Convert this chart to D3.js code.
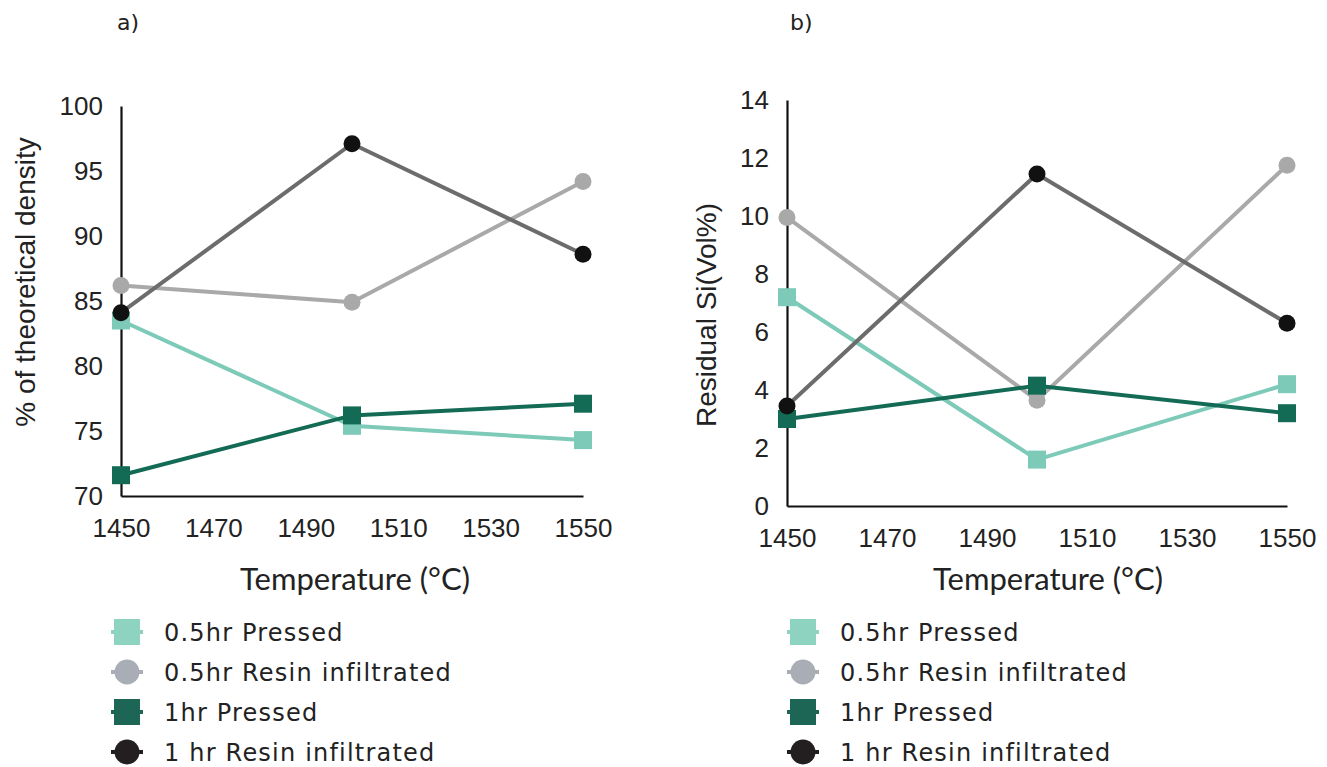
<!DOCTYPE html>
<html><head><meta charset="utf-8">
<script src="https://cdn.jsdelivr.net/npm/d3@7"></script>
<style>body{margin:0;background:#fff}svg{display:block}</style>
</head><body>
<svg id="c" width="1327" height="767"></svg>
<script>
const temps = [1450, 1500, 1550];
const xTicks = [1450, 1470, 1490, 1510, 1530, 1550];
const seriesNames = ["0.5hr Pressed", "0.5hr Resin infiltrated", "1hr Pressed", "1 hr Resin infiltrated"];
// panel a: % of theoretical density
const densPressed05 = [83.5, 75.4, 74.3];
const densResin05 = [86.2, 84.9, 94.2];
const densPressed1 = [71.6, 76.2, 77.1];
const densResin1 = [84.1, 97.1, 88.6];
const densTicks = [70, 75, 80, 85, 90, 95, 100];
// panel b: residual Si (vol%)
const siPressed05 = [7.2, 1.6, 4.2];
const siResin05 = [9.95, 3.65, 11.75];
const siPressed1 = [3.0, 4.15, 3.2];
const siResin1 = [3.45, 11.45, 6.3];
const siTicks = [0, 2, 4, 6, 8, 10, 12, 14];

const styles = [
  {line:"#7ccab7", fill:"#7ccab7", shape:"square", legFill:"#8dd3c0"},
  {line:"#a9a9a9", fill:"#a9a9a9", shape:"circle", legFill:"#a9adb5"},
  {line:"#146b55", fill:"#146b55", shape:"square", legFill:"#1d6655"},
  {line:"#6c6c6c", fill:"#111", shape:"circle", legFill:"#231f20"}
];

const svg = d3.select("#c");

function panel(cfg){
  const g = svg.append("g");
  const x = d3.scaleLinear().domain([1450,1550]).range([cfg.x0, cfg.x1]);
  const y = d3.scaleLinear().domain(cfg.ydom).range([cfg.yb, cfg.yt]);
  const xa = g.append("g").attr("transform",`translate(0,${cfg.yb})`)
    .call(d3.axisBottom(x).tickValues(xTicks).tickSize(0).tickPadding(cfg.xpad).tickFormat(d3.format("d")));
  xa.select(".domain").attr("stroke","#111").attr("stroke-width",2.2);
  xa.selectAll("text").attr("font-family","Liberation Sans, Arial").attr("font-size",26).attr("fill","#222");
  const ya = g.append("g").attr("transform",`translate(${cfg.x0},0)`)
    .call(d3.axisLeft(y).tickValues(cfg.yticks).tickSize(0).tickPadding(cfg.ypad));
  ya.select(".domain").attr("stroke","#111").attr("stroke-width",2.2);
  ya.selectAll("text").attr("font-family","Liberation Sans, Arial").attr("font-size",26).attr("fill","#222");
  const line = d3.line().x((d,i)=>x(temps[i])).y(d=>y(d));
  cfg.data.forEach((vals,k)=>{
    const s = styles[k];
    g.append("path").datum(vals).attr("d",line).attr("fill","none")
      .attr("stroke",s.line).attr("stroke-width",4);
  });
  cfg.data.forEach((vals,k)=>{
    const s = styles[k];
    vals.forEach((v,i)=>{
      if(s.shape==="square"){
        g.append("rect").attr("x",x(temps[i])-9).attr("y",y(v)-9).attr("width",18).attr("height",18).attr("fill",s.fill);
      } else {
        g.append("circle").attr("cx",x(temps[i])).attr("cy",y(v)).attr("r",8.5).attr("fill",s.fill);
      }
    });
  });
  g.append("text").attr("x",cfg.lx).attr("y",30).text(cfg.label)
    .attr("font-family","DejaVu Sans").attr("font-size",22).attr("fill","#222");
  g.append("text").attr("x",cfg.xtx).attr("y",590).attr("text-anchor","middle").text("Temperature (°C)")
    .attr("font-family","Lato").attr("font-size",31).attr("fill","#222");
  g.append("text").attr("transform",`translate(${cfg.ytx},${cfg.yty}) rotate(-90)`).attr("text-anchor","middle")
    .text(cfg.ytitle).attr("font-family","Liberation Sans, Arial").attr("font-size",cfg.yfs).attr("fill","#222");
  const leg = g.append("g");
  seriesNames.forEach((n,k)=>{
    const s = styles[k];
    const cy = 632 + k*40;
    const mx = cfg.legx;
    leg.append("line").attr("x1",mx-16).attr("x2",mx+16).attr("y1",cy).attr("y2",cy).attr("stroke",s.legFill).attr("stroke-width",4);
    if(s.shape==="square") leg.append("rect").attr("x",mx-13).attr("y",cy-13).attr("width",26).attr("height",26).attr("fill",s.legFill);
    else leg.append("circle").attr("cx",mx).attr("cy",cy).attr("r",12.5).attr("fill",s.legFill);
    leg.append("text").attr("x",mx+37).attr("y",cy+9).text(n)
      .attr("font-family","DejaVu Sans").attr("font-size",24).attr("letter-spacing",1.2).attr("fill","#222");
  });
}

panel({x0:121, x1:583, yt:106, yb:496, ydom:[70,100], yticks:densTicks, xpad:23, ypad:18,
  data:[densPressed05,densResin05,densPressed1,densResin1], label:"a)", lx:117,
  xtx:355, ytx:35, yty:282, yfs:28, ytitle:"% of theoretical density", legx:127});
panel({x0:787, x1:1287, yt:100, yb:506, ydom:[0,14], yticks:siTicks, xpad:23, ypad:18,
  data:[siPressed05,siResin05,siPressed1,siResin1], label:"b)", lx:790,
  xtx:1048, ytx:716, yty:315, yfs:28, ytitle:"Residual Si(Vol%)", legx:803});
</script>
</body></html>
